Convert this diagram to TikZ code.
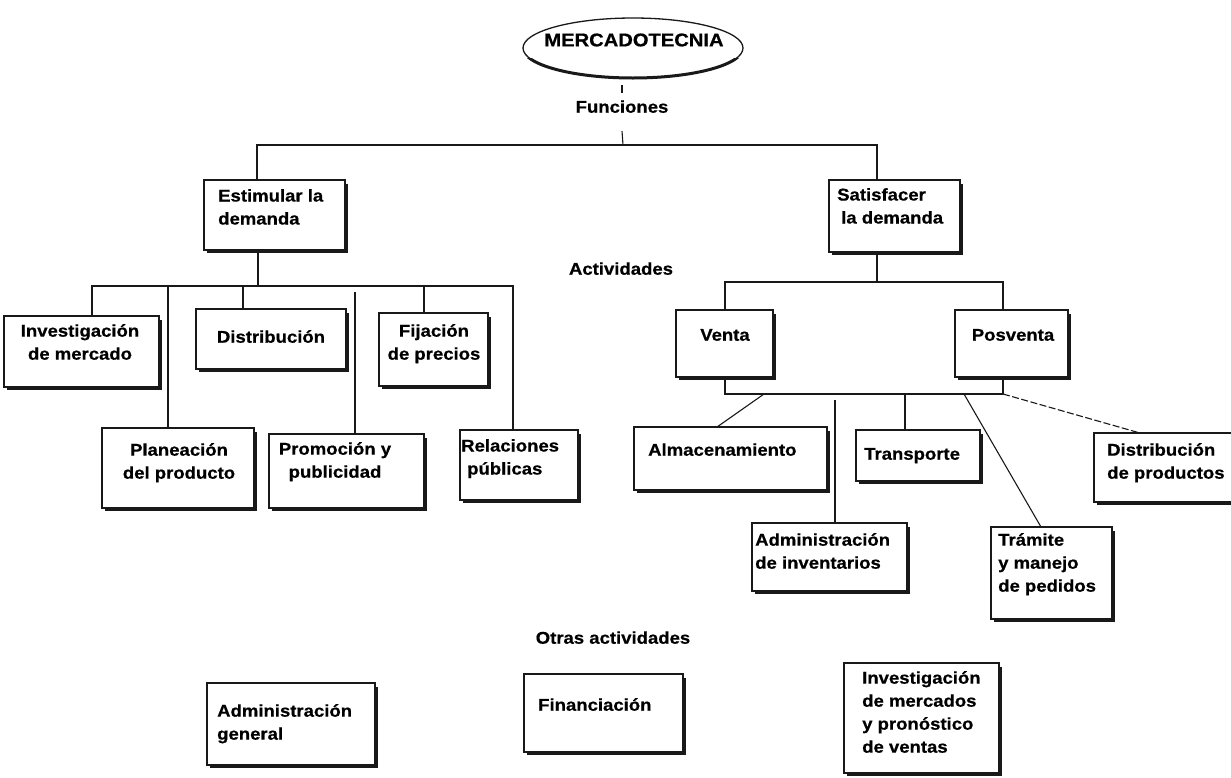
\documentclass[tikz,border=0pt]{standalone}
\usepackage{fontspec}
\newfontfamily\chartfont{Liberation Sans}[FakeStretch=1.09, BoldFeatures={FakeBold=0.6}]
\usetikzlibrary{shapes.geometric,calc}
\newcommand\lblstrut{\rule{0pt}{16.5pt}}
\begin{document}
\begin{tikzpicture}[x=1pt,y=-1pt,
  link/.style={draw=black!90, line width=1.1pt},
  dashlink/.style={link, dash pattern=on 7pt off 2.5pt},
  bx/.style={draw=black!90, fill=white, line width=1.3pt, rectangle, anchor=north west, inner sep=0pt, outer sep=0pt},
  lbl/.style={font=\chartfont\bfseries\fontsize{17}{23}\selectfont, inner sep=0pt, execute at begin node=\lblstrut},
  lblL/.style={lbl, anchor=north west, align=left},
  lblC/.style={lbl, anchor=north, align=center},
  shadowline/.style={line width=3.4pt, draw=black!90, line cap=butt, line join=miter}
]
\useasboundingbox[fill=white] (0,0) rectangle (1231,777);

% title ellipse
\node[ellipse, draw=black!90, line width=1.3pt, minimum width=220pt, minimum height=60pt, inner sep=0pt, outer sep=0pt] (mkt) at (633,48) {};
\begin{scope}
  \clip (515,58) rectangle (755,86);
  \draw[line width=3pt, black!90] (mkt.center) ellipse [x radius=110, y radius=30];
\end{scope}
\node[font=\chartfont\bfseries\fontsize{18.5}{22}\selectfont, inner sep=0pt] (mktT) at (634,40) {MERCADOTECNIA};

% boxes
\node[bx, minimum width=141pt, minimum height=70pt] (est) at (204,180) {};
\node[bx, minimum width=131pt, minimum height=72pt] (sat) at (829,180) {};
\node[bx, minimum width=155pt, minimum height=71pt] (inv) at (4,316) {};
\node[bx, minimum width=150pt, minimum height=60pt] (dist) at (196,309) {};
\node[bx, minimum width=109pt, minimum height=73pt] (fij) at (379,313) {};
\node[bx, minimum width=152pt, minimum height=80pt] (plan) at (102,428) {};
\node[bx, minimum width=155pt, minimum height=74pt] (prom) at (269,434) {};
\node[bx, minimum width=118pt, minimum height=70pt] (rel) at (460,430) {};
\node[bx, minimum width=97pt, minimum height=67pt] (ven) at (676,310) {};
\node[bx, minimum width=113pt, minimum height=67pt] (pos) at (955,310) {};
\node[bx, minimum width=193pt, minimum height=63pt] (alm) at (634,427) {};
\node[bx, minimum width=124pt, minimum height=51pt] (tra) at (856,430) {};
\node[bx, minimum width=150pt, minimum height=69pt] (dpro) at (1094,433) {};
\node[bx, minimum width=155pt, minimum height=68pt] (adm) at (752,523) {};
\node[bx, minimum width=121pt, minimum height=92pt] (tram) at (991,527) {};
\node[bx, minimum width=168pt, minimum height=82pt] (admg) at (207,683) {};
\node[bx, minimum width=159pt, minimum height=78pt] (fin) at (524,674) {};
\node[bx, minimum width=155pt, minimum height=110pt] (invm) at (844,663) {};

% heavier right and bottom edges
\foreach \b in {est,sat,inv,dist,fij,plan,prom,rel,ven,pos,alm,tra,dpro,adm,tram,admg,fin,invm}{
  \draw[shadowline] ([xshift=1pt,yshift=-4pt]\b.north east) -- ([xshift=1pt,yshift=-1pt]\b.south east) -- ([xshift=3pt,yshift=-1pt]\b.south west);
}

% plain labels
\node[lblC] (fun) at (622,96) {Funciones};
\node[lblC] (actT) at (621,258) {Actividades};
\node[lblC] (otrT) at (613,627) {Otras actividades};

% box texts
\node[lblL] (estT) at (218,189) {Estimular la\\demanda};
\node[lblL] (satT) at (837,188) {Satisfacer\\\hspace*{4pt}la demanda};
\node[lblC] (invT) at (80,324) {Investigación\\de mercado};
\node[lblC] (distT) at (271,326) {Distribución};
\node[lblC] (fijT) at (434,324) {Fijación\\de precios};
\node[lblC] (planT) at (179,443) {Planeación\\del producto};
\node[lblC] (promT) at (335,442) {Promoción y\\publicidad};
\node[lblL] (relT) at (461,439) {Relaciones\\\hspace*{6pt}públicas};
\node[lblC] (venT) at (725,324) {Venta};
\node[lblC] (posT) at (1013,324) {Posventa};
\node[lblL] (almT) at (648,439) {Almacenamiento};
\node[lblL] (traT) at (864,443) {Transporte};
\node[lblL] (dproT) at (1107,443) {Distribución\\de productos};
\node[lblL] (admT) at (755,533) {Administración\\de inventarios};
\node[lblL] (tramT) at (998,533) {Trámite\\y manejo\\de pedidos};
\node[lblL] (admgT) at (217,704) {Administración\\general};
\node[lblL] (finT) at (538,694) {Financiación};
\node[lblL] (invmT) at (862,671) {Investigación\\de mercados\\y pronóstico\\de ventas};

% junctions
\coordinate (j0) at (623,145);
\coordinate (jL) at (257,145);
\coordinate (jR) at (877,145);
\coordinate (k0) at (258,286);
\coordinate (kL) at (92,286);
\coordinate (kR) at (513,286);
\coordinate (k2) at (168,286);
\coordinate (k3) at (243,286);
\coordinate (k4) at (355,292);
\coordinate (k5) at (424,286);
\coordinate (m0) at (877,282);
\coordinate (mL) at (725,282);
\coordinate (mR) at (1003,282);
\coordinate (nL) at (725,394);
\coordinate (nR) at (1003,394);
\coordinate (n1) at (764,394);
\coordinate (n2) at (835,400);
\coordinate (n3) at (905,394);
\coordinate (n4) at (964,394);

% functions
\draw[link] ($(mkt.south -| fun.north)+(0,7)$) -- ($(fun.north)+(0,-3)$);
\draw[link] ($(fun.south)+(0,18)$) -- (j0);
\draw[link] (est.north -| jL) -- (jL) -- (jR) -- (sat.north -| jR);

% stimulate demand
\draw[link] (est.south -| k0) -- (k0);
\draw[link] (inv.north -| kL) -- (kL) -- (kR) -- (rel.north -| kR);
\draw[link] (k2) -- (k2 |- plan.north);
\draw[link] (k3) -- (k3 |- dist.north);
\draw[link] (k4) -- (k4 |- prom.north);
\draw[link] (k5) -- (k5 |- fij.north);

% satisfy demand
\draw[link] (sat.south -| m0) -- (m0);
\draw[link] (ven.north -| mL) -- (mL) -- (mR) -- (pos.north -| mR);
\draw[link] (ven.south -| nL) -- (nL) -- (nR) -- (pos.south -| nR);
\draw[link] (n1) -- ($(alm.north west)+(83,0)$);
\draw[link] (n2) -- (n2 |- adm.north);
\draw[link] (n3) -- (n3 |- tra.north);
\draw[link] (n4) -- ($(tram.north west)+(50,0)$);
\draw[dashlink] (nR) -- ($(dpro.north west)+(46,0)$);
\end{tikzpicture}
\end{document}
